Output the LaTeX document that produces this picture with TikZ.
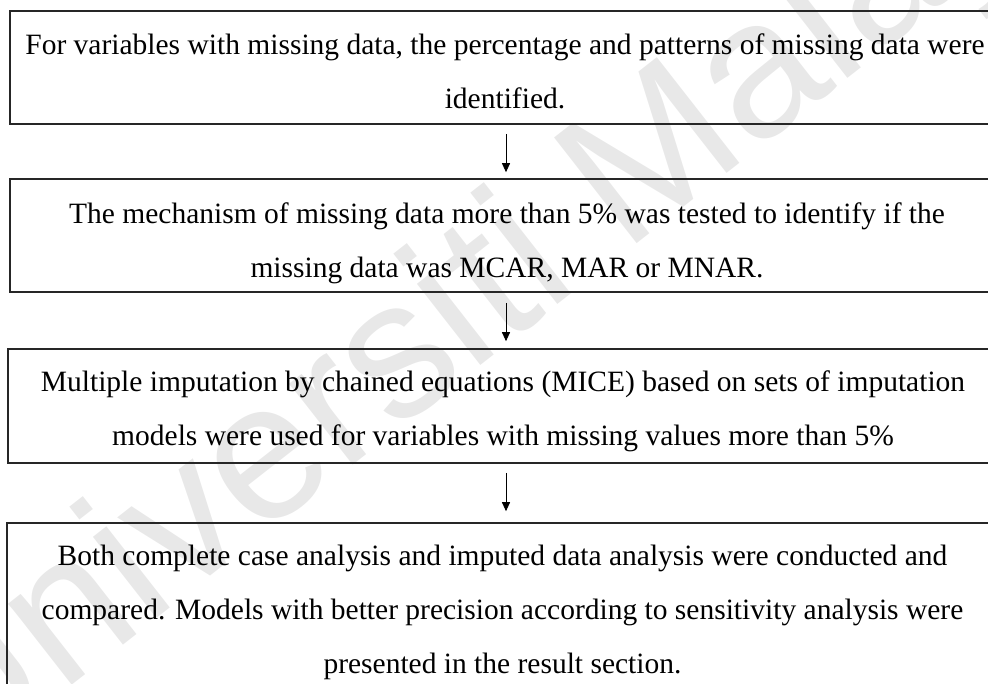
\documentclass[tikz,border=0pt]{standalone}
\usepackage{fontspec}
\setmainfont{Liberation Serif}
\newfontfamily\markfont{Liberation Sans}
\usetikzlibrary{arrows.meta}

\tikzset{
  stepbox/.style={draw=black!85, line width=1.6pt, inner sep=0pt},
  % the base anchor of a multi-line node sits on its last line
  steptext/.style={anchor=base, align=center, inner sep=0pt,
    font=\fontsize{29.5}{54}\selectfont},
  flow/.style={line width=0.9pt, -{Triangle[length=9pt,width=8pt]}},
  watermark/.style={font=\markfont\fontsize{195}{195}\selectfont,
    text=black!9, anchor=base west, inner sep=0pt}
}

\begin{document}
\begin{tikzpicture}[x=1pt, y=-1pt]
  \clip (0,0) rectangle (988,683);

  % faint diagonal watermark behind the chart
  \node[watermark, rotate=38] (wm) at (-50,780) {Universiti Malaya};

  % boxes
  \node[stepbox, minimum width=992pt, minimum height=113pt] (b1) at (506,67.5) {};
  \node[stepbox, minimum width=992pt, minimum height=113pt] (b2) at (506,235.5) {};
  \node[stepbox, minimum width=990pt, minimum height=114pt] (b3) at (503,406) {};
  \node[stepbox, minimum width=991pt, minimum height=177pt] (b4) at (502.5,611.5) {};

  % box texts (placed by the baseline of their last line)
  \node[steptext] (t1) at (505,108) {For variables with missing data, the percentage and patterns of missing data were\\identified.};
  \node[steptext] (t2) at (507,277) {The mechanism of missing data more than 5\% was tested to identify if the\\missing data was MCAR, MAR or MNAR.};
  \node[steptext] (t3) at (503,445) {Multiple imputation by chained equations (MICE) based on sets of imputation\\models were used for variables with missing values more than 5\%};
  \node[steptext] (t4) at (502.5,673) {Both complete case analysis and imputed data analysis were conducted and\\compared. Models with better precision according to sensitivity analysis were\\presented in the result section.};

  % connectors
  \coordinate (ax) at (506,0);
  \draw[flow, shorten <=9pt, shorten >=6pt] (b1.south -| ax) -- (b2.north -| ax);
  \draw[flow, shorten <=10pt, shorten >=7pt] (b2.south -| ax) -- (b3.north -| ax);
  \draw[flow, shorten <=9pt, shorten >=11pt] (b3.south -| ax) -- (b4.north -| ax);
\end{tikzpicture}
\end{document}
